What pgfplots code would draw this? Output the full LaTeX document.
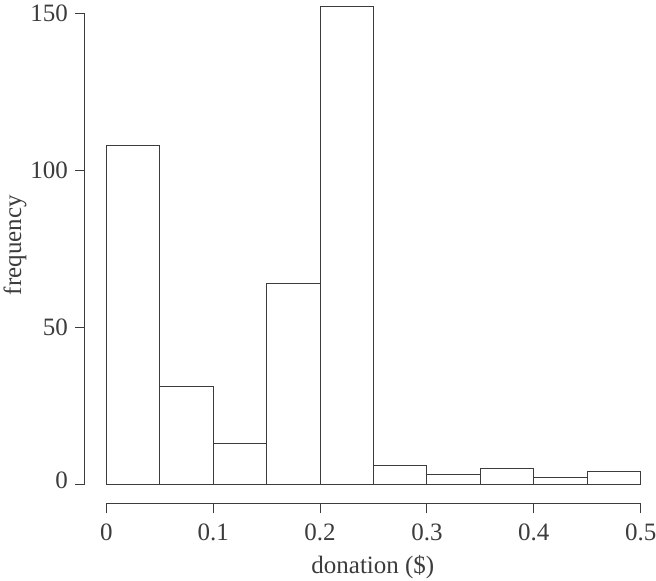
\documentclass[border=0pt]{standalone}
\usepackage{fontspec}
\setmainfont{Liberation Serif}
\usepackage{pgfplots}
\pgfplotsset{compat=1.18}
\definecolor{ink}{HTML}{3C3C3C}

\begin{document}
\begin{tikzpicture}
\begin{axis}[%
    ,name=ax
    ,scale only axis
    ,width=285pt, height=251.65pt
    ,xmin=-0.02, xmax=0.5134
    ,ymin=-6.08, ymax=154.2
    ,axis x line=bottom, axis y line=left
    ,axis line style={draw=none}
    ,tick align=outside
    ,major tick length=5pt
    ,tick style={line width=0.5pt, color=ink}
    ,xtick={0,0.1,0.2,0.3,0.4,0.5}
    ,xticklabels={0,0.1,0.2,0.3,0.4,0.5}
    ,ytick={0,50,100,150}
    ,yticklabels={\raisebox{4pt}{0},50,100,150}
    ,/pgf/number format/assume math mode=true
    ,ticklabel style={font=\fontsize{12.5}{15}\selectfont, color=ink}
    ,xticklabel style={yshift=-2pt}
    ,xlabel={donation (\$)}
    ,ylabel={frequency}
    ,every axis x label/.style={at={(axis description cs:0.505,-0.1266)}, anchor=center,
        font=\fontsize{12.5}{15}\selectfont, color=ink}
    ,every axis y label/.style={at={(axis description cs:-0.1228,0.513)}, anchor=center, rotate=90,
        font=\fontsize{12.5}{15}\selectfont, color=ink}
    ,clip=false
    ]
  \addplot[ybar interval, fill=white, draw=ink, line width=0.5pt] coordinates {
    (0,108) (0.05,31) (0.1,13) (0.15,64) (0.2,152) (0.25,6)
    (0.3,3) (0.35,5) (0.4,2) (0.45,4) (0.5,0)
  };
  \draw[line width=0.5pt, color=ink] (axis cs:0,-6.08) -- (axis cs:0.5,-6.08);
  \draw[line width=0.5pt, color=ink] (axis cs:-0.02,0) -- (axis cs:-0.02,150);
\end{axis}
\pgfresetboundingbox
\path[use as bounding box] ([shift={(-42.5pt,-38.85pt)}]ax.south west) rectangle ([shift={(0.5pt,0pt)}]ax.north east);
\end{tikzpicture}
\end{document}
